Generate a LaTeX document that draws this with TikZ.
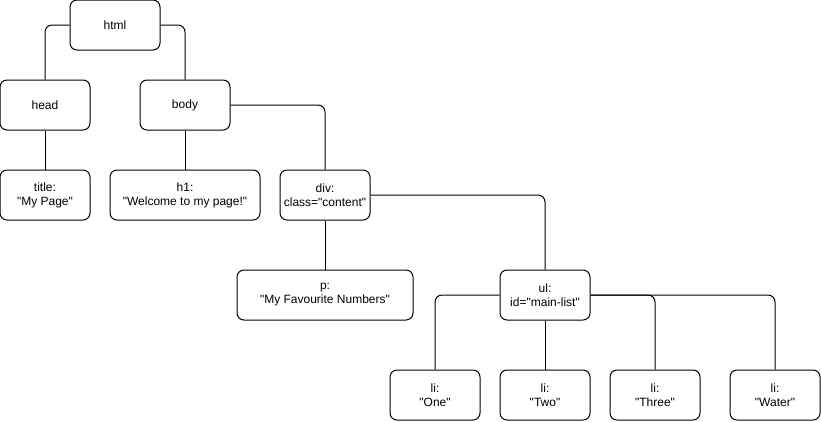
\documentclass[tikz,border=0pt]{standalone}
\usepackage{fontspec}
\setmainfont{Liberation Sans}[Ligatures=TeXOff]

\tikzset{
  elem/.style={draw, line width=1pt, rounded corners=7pt, inner sep=0pt,
    minimum width=90pt, minimum height=50pt, align=center,
    font=\fontsize{12pt}{14pt}\selectfont},
  link/.style={draw, line width=1pt, rounded corners=7pt}
}

\begin{document}
\begin{tikzpicture}[x=1pt, y=-1pt]
  \useasboundingbox (0,0) rectangle (821,421);
  % top levels
  \node[elem] (html) at (115,25) {html};
  \node[elem] (head) at (45,105) {head};
  \node[elem] (body) at (185,105) {body};
  \node[elem] (title) at (45,195) {title:\\"My Page"};
  \node[elem, minimum width=150pt] (hone) at (185,195) {h1:\\"Welcome to my page!"};
  \node[elem] (div) at (325,195) {div:\\class="content"};
  \node[elem, minimum width=176pt] (par) at (325,295) {p:\\"My Favourite Numbers"};
  \node[elem] (ul) at (545,295) {ul:\\id="main-list"};
  % list items
  \node[elem] (one) at (435,395) {li:\\"One"};
  \node[elem] (two) at (545,395) {li:\\"Two"};
  \node[elem] (three) at (655,395) {li:\\"Three"};
  \node[elem] (water) at (775,395) {li:\\"Water"};
  % connectors
  \path[link] (html.west) -| (head.north);
  \path[link] (html.east) -| (body.north);
  \path[link] (head.south) -- (title.north);
  \path[link] (body.south) -- (hone.north);
  \path[link] (body.east) -| (div.north);
  \path[link] (div.south) -- (par.north);
  \path[link] (div.east) -| (ul.north);
  \path[link] (ul.west) -| (one.north);
  \path[link] (ul.south) -- (two.north);
  \path[link] (ul.east) -| (three.north);
  \path[link] (ul.east) -| (water.north);
\end{tikzpicture}
\end{document}
